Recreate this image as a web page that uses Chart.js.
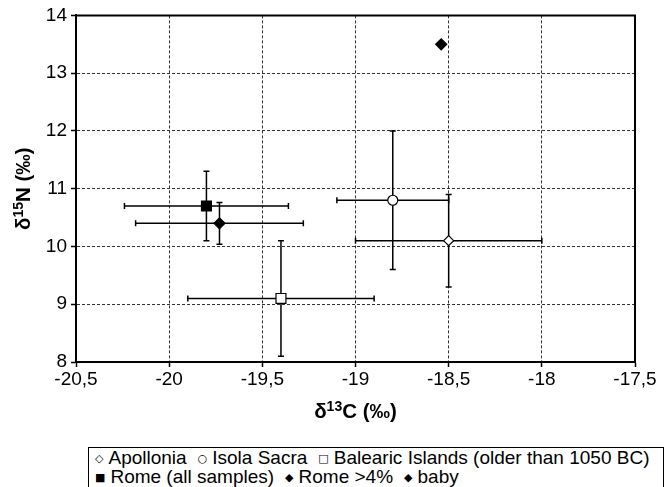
<!DOCTYPE html>
<html>
<head>
<meta charset="utf-8">
<script src="https://cdn.jsdelivr.net/npm/chart.js@4/dist/chart.umd.min.js"></script>
<style>
body { margin: 0; background: #fff; }
#wrap { position: relative; width: 672px; height: 487px; overflow: hidden; font-family: "Liberation Sans", Arial, sans-serif; }
#legend { position: absolute; left: 88px; top: 447px; width: 576px; height: 60px; border: 1.5px solid #000; box-sizing: border-box; padding: 0 0 0 6px; font-size: 19px; color: #000; }
#legend div { height: 19px; line-height: 19px; white-space: nowrap; }
#legend .sym { font-family: "DejaVu Sans", sans-serif; font-size: 11px; margin-right: 5px; vertical-align: 2px; }
#legend .item { margin-right: 11px; }
</style>
</head>
<body>
<div id="wrap">
  <canvas id="myChart" width="672" height="440"></canvas>
  <div id="legend"></div>
</div>
<script>
// Data
const seriesNames = ['Apollonia', 'Isola Sacra', 'Balearic Islands (older than 1050 BC)', 'Rome (all samples)', 'Rome >4%', 'baby']
const carbon = [-18.5, -18.8, -19.4, -19.8, -19.73, -18.54]
const nitrogen = [10.1, 10.8, 9.1, 10.7, 10.4, 13.5]
const carbonErr = [0.5, 0.3, 0.5, 0.44, 0.45, 0]
const nitrogenErr = [0.8, 1.2, 1.0, 0.6, 0.36, 0]
const xTickValues = [-20.5, -20, -19.5, -19, -18.5, -18, -17.5]
const yTickValues = [8, 9, 10, 11, 12, 13, 14]

// marker look for each series
const markers = [
    { style: 'rectRot', fill: '#fff', radius: 5, sym: '◇' },
    { style: 'circle', fill: '#fff', radius: 5, sym: '○' },
    { style: 'rect', fill: '#fff', radius: 7, sym: '□' },
    { style: 'rect', fill: '#000', radius: 7, sym: '■' },
    { style: 'rectRot', fill: '#000', radius: 5.5, sym: '◆' },
    { style: 'rectRot', fill: '#000', radius: 5.5, sym: '◆' }
]

const FONT = '"Liberation Sans", Arial, sans-serif'

// Error bars, drawn under the markers
const errorBars = {
    id: 'errorBars',
    beforeDatasetsDraw(chart) {
        const ctx = chart.ctx
        const xs = chart.scales.x
        const ys = chart.scales.y
        const cap = 3
        ctx.save()
        ctx.strokeStyle = '#000'
        ctx.lineWidth = 1.5
        seriesNames.forEach(function (name, i) {
            const px = xs.getPixelForValue(carbon[i])
            const py = ys.getPixelForValue(nitrogen[i])
            ctx.beginPath()
            if (carbonErr[i]) {
                const x1 = xs.getPixelForValue(carbon[i] - carbonErr[i])
                const x2 = xs.getPixelForValue(carbon[i] + carbonErr[i])
                ctx.moveTo(x1, py); ctx.lineTo(x2, py)
                ctx.moveTo(x1, py - cap); ctx.lineTo(x1, py + cap)
                ctx.moveTo(x2, py - cap); ctx.lineTo(x2, py + cap)
            }
            if (nitrogenErr[i]) {
                const y1 = ys.getPixelForValue(nitrogen[i] - nitrogenErr[i])
                const y2 = ys.getPixelForValue(nitrogen[i] + nitrogenErr[i])
                ctx.moveTo(px, y1); ctx.lineTo(px, y2)
                ctx.moveTo(px - cap, y1); ctx.lineTo(px + cap, y1)
                ctx.moveTo(px - cap, y2); ctx.lineTo(px + cap, y2)
            }
            ctx.stroke()
        })
        ctx.restore()
    }
}

// Solid frame on top/right of the plot area
const frame = {
    id: 'frame',
    beforeDatasetsDraw(chart) {
        const { ctx, chartArea: a } = chart
        ctx.save()
        ctx.strokeStyle = '#000'
        ctx.lineWidth = 2
        ctx.beginPath()
        ctx.moveTo(a.left, a.top)
        ctx.lineTo(a.right, a.top)
        ctx.lineTo(a.right, a.bottom)
        ctx.stroke()
        ctx.restore()
    }
}

// axis titles with superscripts
function drawSupText(ctx, parts, cx, cy) {
    const big = 'bold 20.5px ' + FONT
    const small = 'bold 14px ' + FONT
    let total = 0
    parts.forEach(function (p) {
        ctx.font = p[1] ? small : big
        total += ctx.measureText(p[0]).width
    })
    let x = cx - total / 2
    ctx.textBaseline = 'alphabetic'
    ctx.textAlign = 'left'
    parts.forEach(function (p) {
        ctx.font = p[1] ? small : big
        ctx.fillText(p[0], x, p[1] ? cy - 7.5 : cy)
        x += ctx.measureText(p[0]).width
    })
}

const axisTitles = {
    id: 'axisTitles',
    afterDraw(chart) {
        const { ctx, chartArea: a } = chart
        ctx.save()
        ctx.fillStyle = '#000'
        drawSupText(ctx, [['δ', 0], ['13', 1], ['C (‰)', 0]], (a.left + a.right) / 2, 418)
        ctx.translate(30, (a.top + a.bottom) / 2)
        ctx.rotate(-Math.PI / 2)
        drawSupText(ctx, [['δ', 0], ['15', 1], ['N (‰)', 0]], 0, 0)
        ctx.restore()
    }
}

const datasets = seriesNames.map(function (name, i) {
    return {
        label: name,
        data: [{ x: carbon[i], y: nitrogen[i] }],
        pointStyle: markers[i].style,
        pointRadius: markers[i].radius,
        pointBackgroundColor: markers[i].fill,
        pointBorderColor: '#000',
        pointBorderWidth: 1.2
    }
})

const chart = new Chart(document.getElementById('myChart'), {
    type: 'scatter',
    data: { datasets: datasets },
    options: {
        responsive: false,
        animation: false,
        layout: { padding: { top: 15, right: 37, left: 0, bottom: 0 } },
        plugins: { legend: { display: false }, tooltip: { enabled: false } },
        scales: {
            x: {
                min: -20.5, max: -17.5,
                afterFit(scale) { scale.height = 78 },
                afterBuildTicks(scale) { scale.ticks = xTickValues.map(v => ({ value: v })) },
                ticks: {
                    color: '#000', padding: 1, maxRotation: 0,
                    font: { family: FONT, size: 19 },
                    callback: v => String(v).replace('.', ',')
                },
                grid: { color: '#333', lineWidth: 1, tickLength: 5, tickColor: '#000', tickWidth: 1.5, tickBorderDash: [] },
                border: { display: true, color: '#000', width: 2, dash: [3, 2] }
            },
            y: {
                min: 8, max: 14,
                afterFit(scale) { scale.width = 76 },
                afterBuildTicks(scale) { scale.ticks = yTickValues.map(v => ({ value: v })) },
                ticks: {
                    color: '#000', padding: 4,
                    font: { family: FONT, size: 19 }
                },
                grid: { color: '#333', lineWidth: 1, tickLength: 5, tickColor: '#000', tickWidth: 1.5, tickBorderDash: [] },
                border: { display: true, color: '#000', width: 2, dash: [3, 2] }
            }
        }
    },
    plugins: [frame, errorBars, axisTitles]
})

// Legend in a box below the chart
const legend = document.getElementById('legend')
const rows = [[0, 1, 2], [3, 4, 5]]
rows.forEach(function (row) {
    const div = document.createElement('div')
    row.forEach(function (i) {
        const item = document.createElement('span')
        item.className = 'item'
        const sym = document.createElement('span')
        sym.className = 'sym'
        sym.textContent = markers[i].sym
        item.appendChild(sym)
        item.appendChild(document.createTextNode(seriesNames[i]))
        div.appendChild(item)
    })
    legend.appendChild(div)
})
</script>
</body>
</html>
